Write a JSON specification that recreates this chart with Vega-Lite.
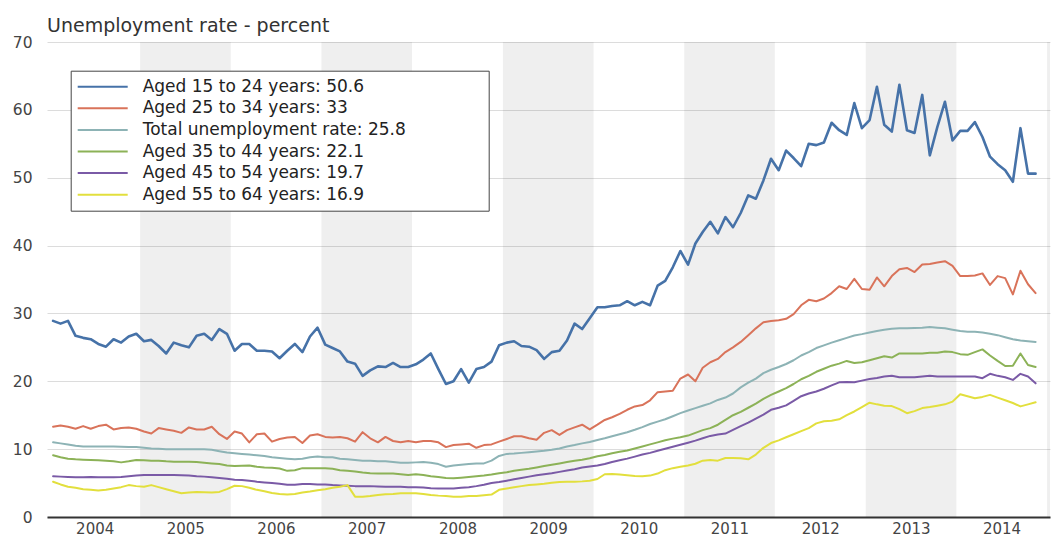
{
"$schema":"https://vega.github.io/schema/vega-lite/v6.json",
"width":1003,"height":475,
"autosize":{"type":"none"},
"padding":{"left":47,"top":42,"right":5,"bottom":19},
"background":"#ffffff",
"config":{"font":"DejaVu Sans","view":{"stroke":null}},
"title":{"text":"Unemployment rate - percent","anchor":"start","frame":"group","fontSize":19,"fontWeight":"normal","color":"#333333","font":"DejaVu Sans","offset":-1},
"datasets":{
"series":[
{"key":"a","label":"Aged 15 to 24 years: 50.6"},
{"key":"b","label":"Aged 25 to 34 years: 33"},
{"key":"t","label":"Total unemployment rate: 25.8"},
{"key":"c","label":"Aged 35 to 44 years: 22.1"},
{"key":"e","label":"Aged 45 to 54 years: 19.7"},
{"key":"f","label":"Aged 55 to 64 years: 16.9"}
],
"bands":[
{"start":"2005-01-01","end":"2006-01-01"},
{"start":"2007-01-01","end":"2008-01-01"},
{"start":"2009-01-01","end":"2010-01-01"},
{"start":"2011-01-01","end":"2012-01-01"},
{"start":"2013-01-01","end":"2014-01-01"},
{"start":"2015-01-01","end":"2016-01-01"}
],
"rates":[
{"s":"a","d":"2004-01","v":28.9},{"s":"a","d":"2004-02","v":28.5},{"s":"a","d":"2004-03","v":28.9},{"s":"a","d":"2004-04","v":26.7},{"s":"a","d":"2004-05","v":26.4},{"s":"a","d":"2004-06","v":26.2},{"s":"a","d":"2004-07","v":25.5},{"s":"a","d":"2004-08","v":25.1},{"s":"a","d":"2004-09","v":26.2},{"s":"a","d":"2004-10","v":25.7},{"s":"a","d":"2004-11","v":26.6},{"s":"a","d":"2004-12","v":27.0},
{"s":"a","d":"2005-01","v":25.9},{"s":"a","d":"2005-02","v":26.1},{"s":"a","d":"2005-03","v":25.2},{"s":"a","d":"2005-04","v":24.1},{"s":"a","d":"2005-05","v":25.7},{"s":"a","d":"2005-06","v":25.3},{"s":"a","d":"2005-07","v":25.0},{"s":"a","d":"2005-08","v":26.7},{"s":"a","d":"2005-09","v":27.0},{"s":"a","d":"2005-10","v":26.1},{"s":"a","d":"2005-11","v":27.7},{"s":"a","d":"2005-12","v":27.0},
{"s":"a","d":"2006-01","v":24.5},{"s":"a","d":"2006-02","v":25.5},{"s":"a","d":"2006-03","v":25.5},{"s":"a","d":"2006-04","v":24.5},{"s":"a","d":"2006-05","v":24.5},{"s":"a","d":"2006-06","v":24.4},{"s":"a","d":"2006-07","v":23.4},{"s":"a","d":"2006-08","v":24.5},{"s":"a","d":"2006-09","v":25.5},{"s":"a","d":"2006-10","v":24.3},{"s":"a","d":"2006-11","v":26.6},{"s":"a","d":"2006-12","v":27.9},
{"s":"a","d":"2007-01","v":25.4},{"s":"a","d":"2007-02","v":24.9},{"s":"a","d":"2007-03","v":24.4},{"s":"a","d":"2007-04","v":22.9},{"s":"a","d":"2007-05","v":22.6},{"s":"a","d":"2007-06","v":20.8},{"s":"a","d":"2007-07","v":21.6},{"s":"a","d":"2007-08","v":22.2},{"s":"a","d":"2007-09","v":22.1},{"s":"a","d":"2007-10","v":22.7},{"s":"a","d":"2007-11","v":22.1},{"s":"a","d":"2007-12","v":22.1},
{"s":"a","d":"2008-01","v":22.5},{"s":"a","d":"2008-02","v":23.2},{"s":"a","d":"2008-03","v":24.1},{"s":"a","d":"2008-04","v":21.8},{"s":"a","d":"2008-05","v":19.6},{"s":"a","d":"2008-06","v":20.0},{"s":"a","d":"2008-07","v":21.8},{"s":"a","d":"2008-08","v":19.8},{"s":"a","d":"2008-09","v":21.8},{"s":"a","d":"2008-10","v":22.1},{"s":"a","d":"2008-11","v":22.9},{"s":"a","d":"2008-12","v":25.3},
{"s":"a","d":"2009-01","v":25.7},{"s":"a","d":"2009-02","v":25.9},{"s":"a","d":"2009-03","v":25.2},{"s":"a","d":"2009-04","v":25.1},{"s":"a","d":"2009-05","v":24.6},{"s":"a","d":"2009-06","v":23.3},{"s":"a","d":"2009-07","v":24.3},{"s":"a","d":"2009-08","v":24.5},{"s":"a","d":"2009-09","v":26.0},{"s":"a","d":"2009-10","v":28.5},{"s":"a","d":"2009-11","v":27.7},{"s":"a","d":"2009-12","v":29.3},
{"s":"a","d":"2010-01","v":30.9},{"s":"a","d":"2010-02","v":30.9},{"s":"a","d":"2010-03","v":31.1},{"s":"a","d":"2010-04","v":31.2},{"s":"a","d":"2010-05","v":31.8},{"s":"a","d":"2010-06","v":31.2},{"s":"a","d":"2010-07","v":31.7},{"s":"a","d":"2010-08","v":31.2},{"s":"a","d":"2010-09","v":34.1},{"s":"a","d":"2010-10","v":34.8},{"s":"a","d":"2010-11","v":36.8},{"s":"a","d":"2010-12","v":39.2},
{"s":"a","d":"2011-01","v":37.2},{"s":"a","d":"2011-02","v":40.3},{"s":"a","d":"2011-03","v":42.0},{"s":"a","d":"2011-04","v":43.5},{"s":"a","d":"2011-05","v":41.8},{"s":"a","d":"2011-06","v":44.2},{"s":"a","d":"2011-07","v":42.7},{"s":"a","d":"2011-08","v":44.8},{"s":"a","d":"2011-09","v":47.4},{"s":"a","d":"2011-10","v":46.9},{"s":"a","d":"2011-11","v":49.6},{"s":"a","d":"2011-12","v":52.8},
{"s":"a","d":"2012-01","v":51.1},{"s":"a","d":"2012-02","v":54.0},{"s":"a","d":"2012-03","v":52.9},{"s":"a","d":"2012-04","v":51.7},{"s":"a","d":"2012-05","v":55.0},{"s":"a","d":"2012-06","v":54.8},{"s":"a","d":"2012-07","v":55.2},{"s":"a","d":"2012-08","v":58.1},{"s":"a","d":"2012-09","v":57.0},{"s":"a","d":"2012-10","v":56.3},{"s":"a","d":"2012-11","v":61.0},{"s":"a","d":"2012-12","v":57.3},
{"s":"a","d":"2013-01","v":58.5},{"s":"a","d":"2013-02","v":63.4},{"s":"a","d":"2013-03","v":57.8},{"s":"a","d":"2013-04","v":56.8},{"s":"a","d":"2013-05","v":63.7},{"s":"a","d":"2013-06","v":57.0},{"s":"a","d":"2013-07","v":56.6},{"s":"a","d":"2013-08","v":62.2},{"s":"a","d":"2013-09","v":53.3},{"s":"a","d":"2013-10","v":57.5},{"s":"a","d":"2013-11","v":61.2},{"s":"a","d":"2013-12","v":55.5},
{"s":"a","d":"2014-01","v":56.9},{"s":"a","d":"2014-02","v":56.9},{"s":"a","d":"2014-03","v":58.2},{"s":"a","d":"2014-04","v":56.0},{"s":"a","d":"2014-05","v":53.1},{"s":"a","d":"2014-06","v":52.0},{"s":"a","d":"2014-07","v":51.1},{"s":"a","d":"2014-08","v":49.4},{"s":"a","d":"2014-09","v":57.3},{"s":"a","d":"2014-10","v":50.6},{"s":"a","d":"2014-11","v":50.6},
{"s":"b","d":"2004-01","v":13.3},{"s":"b","d":"2004-02","v":13.5},{"s":"b","d":"2004-03","v":13.3},{"s":"b","d":"2004-04","v":13.0},{"s":"b","d":"2004-05","v":13.4},{"s":"b","d":"2004-06","v":13.0},{"s":"b","d":"2004-07","v":13.4},{"s":"b","d":"2004-08","v":13.6},{"s":"b","d":"2004-09","v":12.9},{"s":"b","d":"2004-10","v":13.1},{"s":"b","d":"2004-11","v":13.2},{"s":"b","d":"2004-12","v":13.0},
{"s":"b","d":"2005-01","v":12.6},{"s":"b","d":"2005-02","v":12.3},{"s":"b","d":"2005-03","v":13.1},{"s":"b","d":"2005-04","v":12.9},{"s":"b","d":"2005-05","v":12.7},{"s":"b","d":"2005-06","v":12.4},{"s":"b","d":"2005-07","v":13.2},{"s":"b","d":"2005-08","v":12.9},{"s":"b","d":"2005-09","v":12.9},{"s":"b","d":"2005-10","v":13.3},{"s":"b","d":"2005-11","v":12.2},{"s":"b","d":"2005-12","v":11.5},
{"s":"b","d":"2006-01","v":12.6},{"s":"b","d":"2006-02","v":12.3},{"s":"b","d":"2006-03","v":11.0},{"s":"b","d":"2006-04","v":12.2},{"s":"b","d":"2006-05","v":12.3},{"s":"b","d":"2006-06","v":11.1},{"s":"b","d":"2006-07","v":11.5},{"s":"b","d":"2006-08","v":11.7},{"s":"b","d":"2006-09","v":11.8},{"s":"b","d":"2006-10","v":10.9},{"s":"b","d":"2006-11","v":12.0},{"s":"b","d":"2006-12","v":12.2},
{"s":"b","d":"2007-01","v":11.8},{"s":"b","d":"2007-02","v":11.7},{"s":"b","d":"2007-03","v":11.8},{"s":"b","d":"2007-04","v":11.6},{"s":"b","d":"2007-05","v":11.1},{"s":"b","d":"2007-06","v":12.5},{"s":"b","d":"2007-07","v":11.6},{"s":"b","d":"2007-08","v":11.0},{"s":"b","d":"2007-09","v":11.8},{"s":"b","d":"2007-10","v":11.2},{"s":"b","d":"2007-11","v":11.0},{"s":"b","d":"2007-12","v":11.2},
{"s":"b","d":"2008-01","v":11.0},{"s":"b","d":"2008-02","v":11.2},{"s":"b","d":"2008-03","v":11.2},{"s":"b","d":"2008-04","v":11.0},{"s":"b","d":"2008-05","v":10.3},{"s":"b","d":"2008-06","v":10.6},{"s":"b","d":"2008-07","v":10.7},{"s":"b","d":"2008-08","v":10.8},{"s":"b","d":"2008-09","v":10.2},{"s":"b","d":"2008-10","v":10.6},{"s":"b","d":"2008-11","v":10.7},{"s":"b","d":"2008-12","v":11.1},
{"s":"b","d":"2009-01","v":11.5},{"s":"b","d":"2009-02","v":11.9},{"s":"b","d":"2009-03","v":11.9},{"s":"b","d":"2009-04","v":11.6},{"s":"b","d":"2009-05","v":11.4},{"s":"b","d":"2009-06","v":12.4},{"s":"b","d":"2009-07","v":12.8},{"s":"b","d":"2009-08","v":12.1},{"s":"b","d":"2009-09","v":12.8},{"s":"b","d":"2009-10","v":13.2},{"s":"b","d":"2009-11","v":13.6},{"s":"b","d":"2009-12","v":12.9},
{"s":"b","d":"2010-01","v":13.6},{"s":"b","d":"2010-02","v":14.3},{"s":"b","d":"2010-03","v":14.7},{"s":"b","d":"2010-04","v":15.2},{"s":"b","d":"2010-05","v":15.8},{"s":"b","d":"2010-06","v":16.3},{"s":"b","d":"2010-07","v":16.5},{"s":"b","d":"2010-08","v":17.2},{"s":"b","d":"2010-09","v":18.4},{"s":"b","d":"2010-10","v":18.5},{"s":"b","d":"2010-11","v":18.6},{"s":"b","d":"2010-12","v":20.4},
{"s":"b","d":"2011-01","v":21.0},{"s":"b","d":"2011-02","v":20.0},{"s":"b","d":"2011-03","v":22.0},{"s":"b","d":"2011-04","v":22.8},{"s":"b","d":"2011-05","v":23.3},{"s":"b","d":"2011-06","v":24.3},{"s":"b","d":"2011-07","v":25.0},{"s":"b","d":"2011-08","v":25.8},{"s":"b","d":"2011-09","v":26.8},{"s":"b","d":"2011-10","v":27.8},{"s":"b","d":"2011-11","v":28.7},{"s":"b","d":"2011-12","v":28.9},
{"s":"b","d":"2012-01","v":29.0},{"s":"b","d":"2012-02","v":29.2},{"s":"b","d":"2012-03","v":29.9},{"s":"b","d":"2012-04","v":31.2},{"s":"b","d":"2012-05","v":32.0},{"s":"b","d":"2012-06","v":31.8},{"s":"b","d":"2012-07","v":32.2},{"s":"b","d":"2012-08","v":33.0},{"s":"b","d":"2012-09","v":34.0},{"s":"b","d":"2012-10","v":33.6},{"s":"b","d":"2012-11","v":35.1},{"s":"b","d":"2012-12","v":33.6},
{"s":"b","d":"2013-01","v":33.5},{"s":"b","d":"2013-02","v":35.3},{"s":"b","d":"2013-03","v":34.0},{"s":"b","d":"2013-04","v":35.5},{"s":"b","d":"2013-05","v":36.5},{"s":"b","d":"2013-06","v":36.7},{"s":"b","d":"2013-07","v":36.1},{"s":"b","d":"2013-08","v":37.2},{"s":"b","d":"2013-09","v":37.3},{"s":"b","d":"2013-10","v":37.5},{"s":"b","d":"2013-11","v":37.7},{"s":"b","d":"2013-12","v":37.0},
{"s":"b","d":"2014-01","v":35.5},{"s":"b","d":"2014-02","v":35.5},{"s":"b","d":"2014-03","v":35.6},{"s":"b","d":"2014-04","v":35.9},{"s":"b","d":"2014-05","v":34.2},{"s":"b","d":"2014-06","v":35.5},{"s":"b","d":"2014-07","v":35.2},{"s":"b","d":"2014-08","v":32.8},{"s":"b","d":"2014-09","v":36.3},{"s":"b","d":"2014-10","v":34.3},{"s":"b","d":"2014-11","v":33.0},
{"s":"t","d":"2004-01","v":11.0},{"s":"t","d":"2004-02","v":10.85},{"s":"t","d":"2004-03","v":10.7},{"s":"t","d":"2004-04","v":10.5},{"s":"t","d":"2004-05","v":10.4},{"s":"t","d":"2004-06","v":10.4},{"s":"t","d":"2004-07","v":10.4},{"s":"t","d":"2004-08","v":10.4},{"s":"t","d":"2004-09","v":10.4},{"s":"t","d":"2004-10","v":10.35},{"s":"t","d":"2004-11","v":10.3},{"s":"t","d":"2004-12","v":10.3},
{"s":"t","d":"2005-01","v":10.2},{"s":"t","d":"2005-02","v":10.1},{"s":"t","d":"2005-03","v":10.05},{"s":"t","d":"2005-04","v":10.0},{"s":"t","d":"2005-05","v":10.0},{"s":"t","d":"2005-06","v":10.0},{"s":"t","d":"2005-07","v":10.0},{"s":"t","d":"2005-08","v":10.0},{"s":"t","d":"2005-09","v":10.0},{"s":"t","d":"2005-10","v":9.9},{"s":"t","d":"2005-11","v":9.7},{"s":"t","d":"2005-12","v":9.5},
{"s":"t","d":"2006-01","v":9.4},{"s":"t","d":"2006-02","v":9.3},{"s":"t","d":"2006-03","v":9.2},{"s":"t","d":"2006-04","v":9.1},{"s":"t","d":"2006-05","v":9.0},{"s":"t","d":"2006-06","v":8.8},{"s":"t","d":"2006-07","v":8.7},{"s":"t","d":"2006-08","v":8.6},{"s":"t","d":"2006-09","v":8.5},{"s":"t","d":"2006-10","v":8.6},{"s":"t","d":"2006-11","v":8.8},{"s":"t","d":"2006-12","v":8.9},
{"s":"t","d":"2007-01","v":8.8},{"s":"t","d":"2007-02","v":8.8},{"s":"t","d":"2007-03","v":8.6},{"s":"t","d":"2007-04","v":8.5},{"s":"t","d":"2007-05","v":8.4},{"s":"t","d":"2007-06","v":8.3},{"s":"t","d":"2007-07","v":8.3},{"s":"t","d":"2007-08","v":8.2},{"s":"t","d":"2007-09","v":8.2},{"s":"t","d":"2007-10","v":8.1},{"s":"t","d":"2007-11","v":8.0},{"s":"t","d":"2007-12","v":8.0},
{"s":"t","d":"2008-01","v":8.05},{"s":"t","d":"2008-02","v":8.1},{"s":"t","d":"2008-03","v":8.0},{"s":"t","d":"2008-04","v":7.8},{"s":"t","d":"2008-05","v":7.4},{"s":"t","d":"2008-06","v":7.6},{"s":"t","d":"2008-07","v":7.7},{"s":"t","d":"2008-08","v":7.8},{"s":"t","d":"2008-09","v":7.9},{"s":"t","d":"2008-10","v":7.9},{"s":"t","d":"2008-11","v":8.3},{"s":"t","d":"2008-12","v":9.0},
{"s":"t","d":"2009-01","v":9.3},{"s":"t","d":"2009-02","v":9.35},{"s":"t","d":"2009-03","v":9.45},{"s":"t","d":"2009-04","v":9.55},{"s":"t","d":"2009-05","v":9.65},{"s":"t","d":"2009-06","v":9.75},{"s":"t","d":"2009-07","v":9.9},{"s":"t","d":"2009-08","v":10.1},{"s":"t","d":"2009-09","v":10.4},{"s":"t","d":"2009-10","v":10.6},{"s":"t","d":"2009-11","v":10.85},{"s":"t","d":"2009-12","v":11.05},
{"s":"t","d":"2010-01","v":11.35},{"s":"t","d":"2010-02","v":11.6},{"s":"t","d":"2010-03","v":11.9},{"s":"t","d":"2010-04","v":12.2},{"s":"t","d":"2010-05","v":12.5},{"s":"t","d":"2010-06","v":12.85},{"s":"t","d":"2010-07","v":13.25},{"s":"t","d":"2010-08","v":13.7},{"s":"t","d":"2010-09","v":14.05},{"s":"t","d":"2010-10","v":14.4},{"s":"t","d":"2010-11","v":14.85},{"s":"t","d":"2010-12","v":15.3},
{"s":"t","d":"2011-01","v":15.7},{"s":"t","d":"2011-02","v":16.05},{"s":"t","d":"2011-03","v":16.4},{"s":"t","d":"2011-04","v":16.75},{"s":"t","d":"2011-05","v":17.25},{"s":"t","d":"2011-06","v":17.6},{"s":"t","d":"2011-07","v":18.2},{"s":"t","d":"2011-08","v":19.1},{"s":"t","d":"2011-09","v":19.8},{"s":"t","d":"2011-10","v":20.4},{"s":"t","d":"2011-11","v":21.2},{"s":"t","d":"2011-12","v":21.7},
{"s":"t","d":"2012-01","v":22.1},{"s":"t","d":"2012-02","v":22.55},{"s":"t","d":"2012-03","v":23.1},{"s":"t","d":"2012-04","v":23.8},{"s":"t","d":"2012-05","v":24.3},{"s":"t","d":"2012-06","v":24.9},{"s":"t","d":"2012-07","v":25.3},{"s":"t","d":"2012-08","v":25.7},{"s":"t","d":"2012-09","v":26.05},{"s":"t","d":"2012-10","v":26.4},{"s":"t","d":"2012-11","v":26.75},{"s":"t","d":"2012-12","v":26.95},
{"s":"t","d":"2013-01","v":27.2},{"s":"t","d":"2013-02","v":27.4},{"s":"t","d":"2013-03","v":27.6},{"s":"t","d":"2013-04","v":27.75},{"s":"t","d":"2013-05","v":27.8},{"s":"t","d":"2013-06","v":27.8},{"s":"t","d":"2013-07","v":27.85},{"s":"t","d":"2013-08","v":27.9},{"s":"t","d":"2013-09","v":28.0},{"s":"t","d":"2013-10","v":27.9},{"s":"t","d":"2013-11","v":27.8},{"s":"t","d":"2013-12","v":27.6},
{"s":"t","d":"2014-01","v":27.4},{"s":"t","d":"2014-02","v":27.3},{"s":"t","d":"2014-03","v":27.3},{"s":"t","d":"2014-04","v":27.2},{"s":"t","d":"2014-05","v":27.0},{"s":"t","d":"2014-06","v":26.8},{"s":"t","d":"2014-07","v":26.5},{"s":"t","d":"2014-08","v":26.2},{"s":"t","d":"2014-09","v":26.0},{"s":"t","d":"2014-10","v":25.9},{"s":"t","d":"2014-11","v":25.8},
{"s":"c","d":"2004-01","v":9.1},{"s":"c","d":"2004-02","v":8.8},{"s":"c","d":"2004-03","v":8.6},{"s":"c","d":"2004-04","v":8.5},{"s":"c","d":"2004-05","v":8.45},{"s":"c","d":"2004-06","v":8.4},{"s":"c","d":"2004-07","v":8.35},{"s":"c","d":"2004-08","v":8.3},{"s":"c","d":"2004-09","v":8.2},{"s":"c","d":"2004-10","v":8.05},{"s":"c","d":"2004-11","v":8.2},{"s":"c","d":"2004-12","v":8.4},
{"s":"c","d":"2005-01","v":8.35},{"s":"c","d":"2005-02","v":8.3},{"s":"c","d":"2005-03","v":8.3},{"s":"c","d":"2005-04","v":8.2},{"s":"c","d":"2005-05","v":8.15},{"s":"c","d":"2005-06","v":8.15},{"s":"c","d":"2005-07","v":8.15},{"s":"c","d":"2005-08","v":8.1},{"s":"c","d":"2005-09","v":8.0},{"s":"c","d":"2005-10","v":7.9},{"s":"c","d":"2005-11","v":7.8},{"s":"c","d":"2005-12","v":7.6},
{"s":"c","d":"2006-01","v":7.5},{"s":"c","d":"2006-02","v":7.55},{"s":"c","d":"2006-03","v":7.6},{"s":"c","d":"2006-04","v":7.4},{"s":"c","d":"2006-05","v":7.3},{"s":"c","d":"2006-06","v":7.25},{"s":"c","d":"2006-07","v":7.15},{"s":"c","d":"2006-08","v":6.8},{"s":"c","d":"2006-09","v":6.9},{"s":"c","d":"2006-10","v":7.2},{"s":"c","d":"2006-11","v":7.2},{"s":"c","d":"2006-12","v":7.2},
{"s":"c","d":"2007-01","v":7.2},{"s":"c","d":"2007-02","v":7.1},{"s":"c","d":"2007-03","v":6.9},{"s":"c","d":"2007-04","v":6.8},{"s":"c","d":"2007-05","v":6.7},{"s":"c","d":"2007-06","v":6.55},{"s":"c","d":"2007-07","v":6.45},{"s":"c","d":"2007-08","v":6.4},{"s":"c","d":"2007-09","v":6.4},{"s":"c","d":"2007-10","v":6.4},{"s":"c","d":"2007-11","v":6.3},{"s":"c","d":"2007-12","v":6.2},
{"s":"c","d":"2008-01","v":6.3},{"s":"c","d":"2008-02","v":6.2},{"s":"c","d":"2008-03","v":6.0},{"s":"c","d":"2008-04","v":5.9},{"s":"c","d":"2008-05","v":5.75},{"s":"c","d":"2008-06","v":5.7},{"s":"c","d":"2008-07","v":5.8},{"s":"c","d":"2008-08","v":5.9},{"s":"c","d":"2008-09","v":6.0},{"s":"c","d":"2008-10","v":6.1},{"s":"c","d":"2008-11","v":6.25},{"s":"c","d":"2008-12","v":6.45},
{"s":"c","d":"2009-01","v":6.6},{"s":"c","d":"2009-02","v":6.8},{"s":"c","d":"2009-03","v":6.95},{"s":"c","d":"2009-04","v":7.1},{"s":"c","d":"2009-05","v":7.3},{"s":"c","d":"2009-06","v":7.5},{"s":"c","d":"2009-07","v":7.7},{"s":"c","d":"2009-08","v":7.9},{"s":"c","d":"2009-09","v":8.1},{"s":"c","d":"2009-10","v":8.3},{"s":"c","d":"2009-11","v":8.45},{"s":"c","d":"2009-12","v":8.65},
{"s":"c","d":"2010-01","v":8.95},{"s":"c","d":"2010-02","v":9.15},{"s":"c","d":"2010-03","v":9.4},{"s":"c","d":"2010-04","v":9.6},{"s":"c","d":"2010-05","v":9.8},{"s":"c","d":"2010-06","v":10.1},{"s":"c","d":"2010-07","v":10.4},{"s":"c","d":"2010-08","v":10.7},{"s":"c","d":"2010-09","v":11.0},{"s":"c","d":"2010-10","v":11.3},{"s":"c","d":"2010-11","v":11.55},{"s":"c","d":"2010-12","v":11.75},
{"s":"c","d":"2011-01","v":12.0},{"s":"c","d":"2011-02","v":12.4},{"s":"c","d":"2011-03","v":12.8},{"s":"c","d":"2011-04","v":13.1},{"s":"c","d":"2011-05","v":13.6},{"s":"c","d":"2011-06","v":14.3},{"s":"c","d":"2011-07","v":15.0},{"s":"c","d":"2011-08","v":15.5},{"s":"c","d":"2011-09","v":16.1},{"s":"c","d":"2011-10","v":16.7},{"s":"c","d":"2011-11","v":17.4},{"s":"c","d":"2011-12","v":18.0},
{"s":"c","d":"2012-01","v":18.5},{"s":"c","d":"2012-02","v":19.0},{"s":"c","d":"2012-03","v":19.6},{"s":"c","d":"2012-04","v":20.3},{"s":"c","d":"2012-05","v":20.8},{"s":"c","d":"2012-06","v":21.4},{"s":"c","d":"2012-07","v":21.85},{"s":"c","d":"2012-08","v":22.3},{"s":"c","d":"2012-09","v":22.6},{"s":"c","d":"2012-10","v":23.0},{"s":"c","d":"2012-11","v":22.7},{"s":"c","d":"2012-12","v":22.8},
{"s":"c","d":"2013-01","v":23.1},{"s":"c","d":"2013-02","v":23.4},{"s":"c","d":"2013-03","v":23.7},{"s":"c","d":"2013-04","v":23.5},{"s":"c","d":"2013-05","v":24.1},{"s":"c","d":"2013-06","v":24.1},{"s":"c","d":"2013-07","v":24.1},{"s":"c","d":"2013-08","v":24.1},{"s":"c","d":"2013-09","v":24.2},{"s":"c","d":"2013-10","v":24.2},{"s":"c","d":"2013-11","v":24.4},{"s":"c","d":"2013-12","v":24.3},
{"s":"c","d":"2014-01","v":24.0},{"s":"c","d":"2014-02","v":23.9},{"s":"c","d":"2014-03","v":24.3},{"s":"c","d":"2014-04","v":24.7},{"s":"c","d":"2014-05","v":23.8},{"s":"c","d":"2014-06","v":23.0},{"s":"c","d":"2014-07","v":22.25},{"s":"c","d":"2014-08","v":22.3},{"s":"c","d":"2014-09","v":24.1},{"s":"c","d":"2014-10","v":22.4},{"s":"c","d":"2014-11","v":22.1},
{"s":"e","d":"2004-01","v":6.0},{"s":"e","d":"2004-02","v":5.95},{"s":"e","d":"2004-03","v":5.9},{"s":"e","d":"2004-04","v":5.85},{"s":"e","d":"2004-05","v":5.85},{"s":"e","d":"2004-06","v":5.9},{"s":"e","d":"2004-07","v":5.85},{"s":"e","d":"2004-08","v":5.85},{"s":"e","d":"2004-09","v":5.85},{"s":"e","d":"2004-10","v":5.9},{"s":"e","d":"2004-11","v":6.0},{"s":"e","d":"2004-12","v":6.1},
{"s":"e","d":"2005-01","v":6.2},{"s":"e","d":"2005-02","v":6.2},{"s":"e","d":"2005-03","v":6.2},{"s":"e","d":"2005-04","v":6.2},{"s":"e","d":"2005-05","v":6.2},{"s":"e","d":"2005-06","v":6.15},{"s":"e","d":"2005-07","v":6.1},{"s":"e","d":"2005-08","v":6.0},{"s":"e","d":"2005-09","v":5.95},{"s":"e","d":"2005-10","v":5.85},{"s":"e","d":"2005-11","v":5.75},{"s":"e","d":"2005-12","v":5.65},
{"s":"e","d":"2006-01","v":5.5},{"s":"e","d":"2006-02","v":5.45},{"s":"e","d":"2006-03","v":5.35},{"s":"e","d":"2006-04","v":5.2},{"s":"e","d":"2006-05","v":5.1},{"s":"e","d":"2006-06","v":5.0},{"s":"e","d":"2006-07","v":4.9},{"s":"e","d":"2006-08","v":4.75},{"s":"e","d":"2006-09","v":4.75},{"s":"e","d":"2006-10","v":4.85},{"s":"e","d":"2006-11","v":4.85},{"s":"e","d":"2006-12","v":4.8},
{"s":"e","d":"2007-01","v":4.8},{"s":"e","d":"2007-02","v":4.7},{"s":"e","d":"2007-03","v":4.65},{"s":"e","d":"2007-04","v":4.6},{"s":"e","d":"2007-05","v":4.55},{"s":"e","d":"2007-06","v":4.55},{"s":"e","d":"2007-07","v":4.55},{"s":"e","d":"2007-08","v":4.5},{"s":"e","d":"2007-09","v":4.45},{"s":"e","d":"2007-10","v":4.45},{"s":"e","d":"2007-11","v":4.45},{"s":"e","d":"2007-12","v":4.4},
{"s":"e","d":"2008-01","v":4.4},{"s":"e","d":"2008-02","v":4.35},{"s":"e","d":"2008-03","v":4.25},{"s":"e","d":"2008-04","v":4.2},{"s":"e","d":"2008-05","v":4.2},{"s":"e","d":"2008-06","v":4.2},{"s":"e","d":"2008-07","v":4.3},{"s":"e","d":"2008-08","v":4.4},{"s":"e","d":"2008-09","v":4.55},{"s":"e","d":"2008-10","v":4.75},{"s":"e","d":"2008-11","v":5.0},{"s":"e","d":"2008-12","v":5.15},
{"s":"e","d":"2009-01","v":5.35},{"s":"e","d":"2009-02","v":5.55},{"s":"e","d":"2009-03","v":5.75},{"s":"e","d":"2009-04","v":5.95},{"s":"e","d":"2009-05","v":6.15},{"s":"e","d":"2009-06","v":6.3},{"s":"e","d":"2009-07","v":6.45},{"s":"e","d":"2009-08","v":6.65},{"s":"e","d":"2009-09","v":6.85},{"s":"e","d":"2009-10","v":7.05},{"s":"e","d":"2009-11","v":7.3},{"s":"e","d":"2009-12","v":7.45},
{"s":"e","d":"2010-01","v":7.6},{"s":"e","d":"2010-02","v":7.8},{"s":"e","d":"2010-03","v":8.1},{"s":"e","d":"2010-04","v":8.35},{"s":"e","d":"2010-05","v":8.6},{"s":"e","d":"2010-06","v":8.9},{"s":"e","d":"2010-07","v":9.2},{"s":"e","d":"2010-08","v":9.45},{"s":"e","d":"2010-09","v":9.75},{"s":"e","d":"2010-10","v":10.05},{"s":"e","d":"2010-11","v":10.35},{"s":"e","d":"2010-12","v":10.65},
{"s":"e","d":"2011-01","v":10.95},{"s":"e","d":"2011-02","v":11.25},{"s":"e","d":"2011-03","v":11.6},{"s":"e","d":"2011-04","v":11.95},{"s":"e","d":"2011-05","v":12.15},{"s":"e","d":"2011-06","v":12.3},{"s":"e","d":"2011-07","v":12.85},{"s":"e","d":"2011-08","v":13.4},{"s":"e","d":"2011-09","v":13.9},{"s":"e","d":"2011-10","v":14.5},{"s":"e","d":"2011-11","v":15.1},{"s":"e","d":"2011-12","v":15.8},
{"s":"e","d":"2012-01","v":16.1},{"s":"e","d":"2012-02","v":16.45},{"s":"e","d":"2012-03","v":17.1},{"s":"e","d":"2012-04","v":17.8},{"s":"e","d":"2012-05","v":18.2},{"s":"e","d":"2012-06","v":18.5},{"s":"e","d":"2012-07","v":18.9},{"s":"e","d":"2012-08","v":19.4},{"s":"e","d":"2012-09","v":19.85},{"s":"e","d":"2012-10","v":19.9},{"s":"e","d":"2012-11","v":19.85},{"s":"e","d":"2012-12","v":20.1},
{"s":"e","d":"2013-01","v":20.35},{"s":"e","d":"2013-02","v":20.5},{"s":"e","d":"2013-03","v":20.7},{"s":"e","d":"2013-04","v":20.8},{"s":"e","d":"2013-05","v":20.6},{"s":"e","d":"2013-06","v":20.6},{"s":"e","d":"2013-07","v":20.6},{"s":"e","d":"2013-08","v":20.7},{"s":"e","d":"2013-09","v":20.8},{"s":"e","d":"2013-10","v":20.7},{"s":"e","d":"2013-11","v":20.7},{"s":"e","d":"2013-12","v":20.7},
{"s":"e","d":"2014-01","v":20.7},{"s":"e","d":"2014-02","v":20.7},{"s":"e","d":"2014-03","v":20.7},{"s":"e","d":"2014-04","v":20.45},{"s":"e","d":"2014-05","v":21.1},{"s":"e","d":"2014-06","v":20.8},{"s":"e","d":"2014-07","v":20.6},{"s":"e","d":"2014-08","v":20.2},{"s":"e","d":"2014-09","v":21.1},{"s":"e","d":"2014-10","v":20.7},{"s":"e","d":"2014-11","v":19.7},
{"s":"f","d":"2004-01","v":5.2},{"s":"f","d":"2004-02","v":4.8},{"s":"f","d":"2004-03","v":4.45},{"s":"f","d":"2004-04","v":4.3},{"s":"f","d":"2004-05","v":4.1},{"s":"f","d":"2004-06","v":4.0},{"s":"f","d":"2004-07","v":3.9},{"s":"f","d":"2004-08","v":4.0},{"s":"f","d":"2004-09","v":4.2},{"s":"f","d":"2004-10","v":4.4},{"s":"f","d":"2004-11","v":4.7},{"s":"f","d":"2004-12","v":4.55},
{"s":"f","d":"2005-01","v":4.45},{"s":"f","d":"2005-02","v":4.7},{"s":"f","d":"2005-03","v":4.4},{"s":"f","d":"2005-04","v":4.1},{"s":"f","d":"2005-05","v":3.8},{"s":"f","d":"2005-06","v":3.5},{"s":"f","d":"2005-07","v":3.6},{"s":"f","d":"2005-08","v":3.7},{"s":"f","d":"2005-09","v":3.65},{"s":"f","d":"2005-10","v":3.6},{"s":"f","d":"2005-11","v":3.7},{"s":"f","d":"2005-12","v":4.1},
{"s":"f","d":"2006-01","v":4.6},{"s":"f","d":"2006-02","v":4.55},{"s":"f","d":"2006-03","v":4.3},{"s":"f","d":"2006-04","v":4.0},{"s":"f","d":"2006-05","v":3.8},{"s":"f","d":"2006-06","v":3.55},{"s":"f","d":"2006-07","v":3.4},{"s":"f","d":"2006-08","v":3.3},{"s":"f","d":"2006-09","v":3.4},{"s":"f","d":"2006-10","v":3.6},{"s":"f","d":"2006-11","v":3.75},{"s":"f","d":"2006-12","v":3.95},
{"s":"f","d":"2007-01","v":4.1},{"s":"f","d":"2007-02","v":4.3},{"s":"f","d":"2007-03","v":4.45},{"s":"f","d":"2007-04","v":4.7},{"s":"f","d":"2007-05","v":3.0},{"s":"f","d":"2007-06","v":3.0},{"s":"f","d":"2007-07","v":3.1},{"s":"f","d":"2007-08","v":3.25},{"s":"f","d":"2007-09","v":3.35},{"s":"f","d":"2007-10","v":3.4},{"s":"f","d":"2007-11","v":3.5},{"s":"f","d":"2007-12","v":3.5},
{"s":"f","d":"2008-01","v":3.5},{"s":"f","d":"2008-02","v":3.4},{"s":"f","d":"2008-03","v":3.25},{"s":"f","d":"2008-04","v":3.15},{"s":"f","d":"2008-05","v":3.1},{"s":"f","d":"2008-06","v":3.0},{"s":"f","d":"2008-07","v":3.0},{"s":"f","d":"2008-08","v":3.1},{"s":"f","d":"2008-09","v":3.1},{"s":"f","d":"2008-10","v":3.2},{"s":"f","d":"2008-11","v":3.3},{"s":"f","d":"2008-12","v":4.0},
{"s":"f","d":"2009-01","v":4.2},{"s":"f","d":"2009-02","v":4.4},{"s":"f","d":"2009-03","v":4.55},{"s":"f","d":"2009-04","v":4.7},{"s":"f","d":"2009-05","v":4.8},{"s":"f","d":"2009-06","v":4.9},{"s":"f","d":"2009-07","v":5.05},{"s":"f","d":"2009-08","v":5.15},{"s":"f","d":"2009-09","v":5.2},{"s":"f","d":"2009-10","v":5.2},{"s":"f","d":"2009-11","v":5.25},{"s":"f","d":"2009-12","v":5.35},
{"s":"f","d":"2010-01","v":5.6},{"s":"f","d":"2010-02","v":6.3},{"s":"f","d":"2010-03","v":6.35},{"s":"f","d":"2010-04","v":6.25},{"s":"f","d":"2010-05","v":6.15},{"s":"f","d":"2010-06","v":6.05},{"s":"f","d":"2010-07","v":6.0},{"s":"f","d":"2010-08","v":6.1},{"s":"f","d":"2010-09","v":6.4},{"s":"f","d":"2010-10","v":6.9},{"s":"f","d":"2010-11","v":7.2},{"s":"f","d":"2010-12","v":7.4},
{"s":"f","d":"2011-01","v":7.6},{"s":"f","d":"2011-02","v":7.85},{"s":"f","d":"2011-03","v":8.3},{"s":"f","d":"2011-04","v":8.4},{"s":"f","d":"2011-05","v":8.3},{"s":"f","d":"2011-06","v":8.7},{"s":"f","d":"2011-07","v":8.7},{"s":"f","d":"2011-08","v":8.65},{"s":"f","d":"2011-09","v":8.5},{"s":"f","d":"2011-10","v":9.2},{"s":"f","d":"2011-11","v":10.2},{"s":"f","d":"2011-12","v":10.9},
{"s":"f","d":"2012-01","v":11.3},{"s":"f","d":"2012-02","v":11.75},{"s":"f","d":"2012-03","v":12.2},{"s":"f","d":"2012-04","v":12.65},{"s":"f","d":"2012-05","v":13.1},{"s":"f","d":"2012-06","v":13.8},{"s":"f","d":"2012-07","v":14.1},{"s":"f","d":"2012-08","v":14.2},{"s":"f","d":"2012-09","v":14.4},{"s":"f","d":"2012-10","v":15.0},{"s":"f","d":"2012-11","v":15.55},{"s":"f","d":"2012-12","v":16.2},
{"s":"f","d":"2013-01","v":16.85},{"s":"f","d":"2013-02","v":16.6},{"s":"f","d":"2013-03","v":16.4},{"s":"f","d":"2013-04","v":16.35},{"s":"f","d":"2013-05","v":15.9},{"s":"f","d":"2013-06","v":15.3},{"s":"f","d":"2013-07","v":15.6},{"s":"f","d":"2013-08","v":16.05},{"s":"f","d":"2013-09","v":16.2},{"s":"f","d":"2013-10","v":16.4},{"s":"f","d":"2013-11","v":16.6},{"s":"f","d":"2013-12","v":17.0},
{"s":"f","d":"2014-01","v":18.1},{"s":"f","d":"2014-02","v":17.8},{"s":"f","d":"2014-03","v":17.5},{"s":"f","d":"2014-04","v":17.7},{"s":"f","d":"2014-05","v":18.0},{"s":"f","d":"2014-06","v":17.6},{"s":"f","d":"2014-07","v":17.2},{"s":"f","d":"2014-08","v":16.8},{"s":"f","d":"2014-09","v":16.3},{"s":"f","d":"2014-10","v":16.6},{"s":"f","d":"2014-11","v":16.9}
]
},
"layer":[
{
"data":{"name":"bands"},
"mark":{"type":"rect","color":"#000000","opacity":0.063,"clip":true},
"encoding":{
"x":{"field":"start","type":"temporal","scale":{"type":"utc","domain":[{"year":2003,"month":12,"date":23,"utc":true},{"year":2015,"month":1,"date":13,"utc":true}]}},
"x2":{"field":"end"},
"y":{"datum":70,"type":"quantitative"},
"y2":{"datum":0}
}
},
{
"data":{"name":"rates"},
"transform":[{"lookup":"s","from":{"data":{"name":"series"},"key":"key","fields":["label"]}}],
"mark":{"type":"line","strokeJoin":"round","strokeCap":"round","clip":true},
"encoding":{
"x":{"field":"d","type":"temporal","timeUnit":"utcyearmonth","bandPosition":0.5,
"scale":{"type":"utc","domain":[{"year":2003,"month":12,"date":23,"utc":true},{"year":2015,"month":1,"date":13,"utc":true}]},
"axis":{"title":null,"values":[{"year":2004,"month":7,"date":2,"utc":true},{"year":2005,"month":7,"date":2,"utc":true},{"year":2006,"month":7,"date":2,"utc":true},{"year":2007,"month":7,"date":2,"utc":true},{"year":2008,"month":7,"date":2,"utc":true},{"year":2009,"month":7,"date":2,"utc":true},{"year":2010,"month":7,"date":2,"utc":true},{"year":2011,"month":7,"date":2,"utc":true},{"year":2012,"month":7,"date":2,"utc":true},{"year":2013,"month":7,"date":2,"utc":true},{"year":2014,"month":7,"date":2,"utc":true}],
"format":"%Y","ticks":false,"grid":false,"domain":true,"domainColor":"#333333","domainWidth":2,"labelFontSize":15,"labelColor":"#444444","labelFont":"DejaVu Sans","labelPadding":4,"labelFlush":false,"labelOverlap":false}},
"y":{"field":"v","type":"quantitative","scale":{"domain":[0,70],"nice":false,"zero":true},
"axis":{"title":null,"values":[0,10,20,30,40,50,60,70],"domain":false,"ticks":false,"grid":true,"gridColor":"#dcdcdc","gridWidth":1,"labelFontSize":15.5,"labelColor":"#444444","labelFont":"DejaVu Sans","labelPadding":15,"labelFlush":false,"labelOverlap":false}},
"color":{"field":"label","type":"nominal",
"scale":{"domain":["Aged 15 to 24 years: 50.6","Aged 25 to 34 years: 33","Total unemployment rate: 25.8","Aged 35 to 44 years: 22.1","Aged 45 to 54 years: 19.7","Aged 55 to 64 years: 16.9"],
"range":["#4672a8","#d9735a","#8db3b5","#8cb257","#7a5aa6","#e2df3d"]},
"legend":{"orient":"none","legendX":23.7,"legendY":28.7,"title":null,"symbolType":"stroke","symbolSize":2500,"symbolStrokeWidth":2,"clipHeight":20,"labelFontSize":17,"labelFont":"DejaVu Sans","labelColor":"#222222","labelOffset":14,"labelLimit":800,"padding":6,"rowPadding":1.6,"strokeColor":"#444444","fillColor":"#ffffff","labelExpr":"datum.label + '\u2003\u2003\u2003\u2003\u2002\u200b'"}},
"strokeWidth":{"condition":{"test":"datum.s === 'a'","value":2.6},"value":2}
}
}
]
}
